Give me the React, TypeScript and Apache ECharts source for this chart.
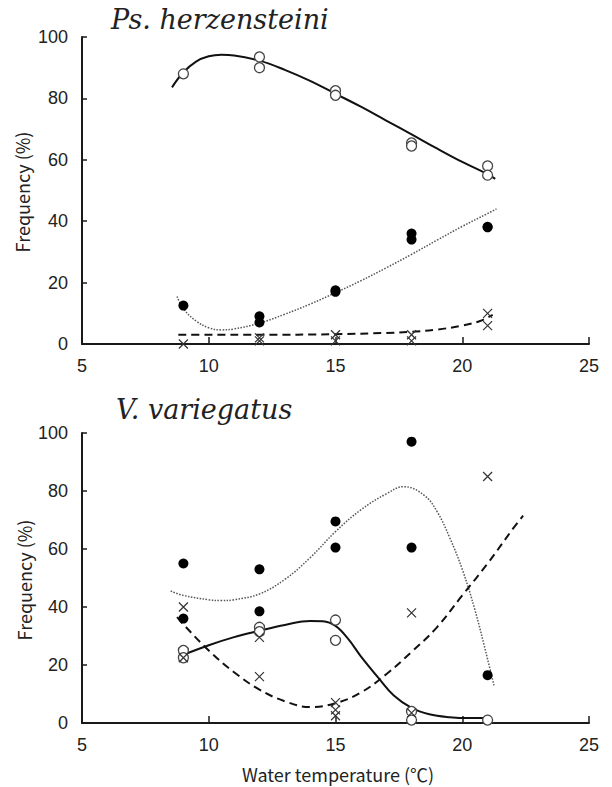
import React, { useEffect, useRef } from "react";
import * as echarts from "echarts";

// ---- Data ----
const xTickMin = 5;
const xTickMax = 25;
const yTickMin = 0;
const yTickMax = 100;

const titleTop = "Ps. herzensteini";
const titleBottom = "V. variegatus";
const yName = "Frequency (%)";
const xName = "Water temperature (℃)";

// Ps. herzensteini observations [temperature, frequency]
const topOpen = [[9, 88], [12, 93.5], [12, 90], [15, 82.5], [15, 81], [18, 65.5], [18, 64.5], [21, 58], [21, 55]];
const topFilled = [[9, 12.5], [12, 9], [12, 7], [15, 17.5], [15, 17], [18, 36], [18, 34], [21, 38.2], [21, 38]];
const topCross = [[9, 0], [12, 2], [12, 1], [15, 3], [15, 1], [18, 3], [18, 1], [21, 10], [21, 6]];

// Ps. herzensteini fitted curves
const topSolidFit = [[8.55, 83.6], [9, 88.5], [9.5, 92], [10, 93.7], [10.5, 94.2], [11, 94], [12, 92.3], [13, 89.3], [14, 85.7], [15, 81.5], [16, 77.3], [17, 72.8], [18, 68.3], [19, 63.7], [20, 59.3], [21, 55.3], [21.3, 53.8]];
const topDottedFit = [[8.75, 15.5], [9, 11.5], [9.5, 7.5], [10, 5.3], [10.5, 4.6], [11, 4.9], [12, 6.8], [13, 9.7], [14, 13], [15, 16.7], [16, 20.6], [17, 24.8], [18, 29.2], [19, 33.8], [20, 38.3], [21, 42.5], [21.35, 44]];
const topDashedFit = [[8.8, 3], [10, 3], [12, 3], [15, 3.2], [17, 3.6], [18, 4], [19, 4.7], [20, 6], [20.7, 7.5], [21.2, 9.5]];

// V. variegatus observations
const botFilled = [[9, 55], [9, 36], [12, 53], [12, 38.5], [15, 69.5], [15, 60.5], [18, 97], [18, 60.5], [21, 16.5]];
const botOpen = [[9, 25], [9, 22.5], [12, 33], [12, 31.5], [15, 35.5], [15, 28.5], [18, 4], [18, 1], [21, 1]];
const botCross = [[9, 40], [9, 22.5], [12, 29.5], [12, 16], [15, 7], [15, 4.5], [15, 2.5], [18, 38], [18, 3.5], [21, 85]];

// V. variegatus fitted curves
const botSolidFit = [[9, 23.5], [10, 26.8], [11, 29.6], [12, 31.8], [13, 33.8], [14, 35.2], [14.5, 35.1], [15, 33.5], [15.5, 29], [16, 23], [16.7, 15.5], [17.3, 9.5], [18, 5.2], [18.7, 3], [19.5, 2], [20.3, 1.7], [21, 1.7]];
const botDottedFit = [[8.5, 45.5], [9, 44], [10, 42.5], [10.5, 42.2], [11, 42.5], [12, 44.5], [13, 49.5], [14, 57], [15, 66], [16, 73.5], [17, 79], [17.7, 81.5], [18.5, 78.5], [19, 73], [19.5, 64], [20, 53], [20.5, 39], [21, 22], [21.25, 13]];
const botDashedFit = [[8.75, 36.5], [9, 34], [10, 25], [11, 17.5], [12, 11.5], [13, 7.5], [14, 5.5], [15, 6.8], [16, 10.5], [17, 16.8], [18, 24.5], [19, 33], [20, 44], [21, 55], [22, 67], [22.4, 71.5]];

const CROSS = "path://M0,0L10,10M10,0L0,10";
const INK = "#1a1a1a";

function axisPair(idx: number) {
  const x = {
    type: "value",
    gridIndex: idx,
    min: xTickMin,
    max: xTickMax,
    interval: 5,
    splitLine: { show: false },
    axisLine: { show: true, onZero: false, lineStyle: { color: INK, width: 2 } },
    axisTick: { show: true, inside: true, length: 7, lineStyle: { color: INK, width: 1.5 } },
    axisLabel: { color: "#222", fontFamily: "Liberation Sans", fontSize: 18, margin: 13 },
  };
  const y = {
    type: "value",
    gridIndex: idx,
    min: yTickMin,
    max: yTickMax,
    interval: 20,
    splitLine: { show: false },
    axisLine: { show: true, onZero: false, lineStyle: { color: INK, width: 2 } },
    axisTick: { show: true, inside: true, length: 5, lineStyle: { color: INK, width: 1.5 } },
    axisLabel: { color: "#222", fontFamily: "Liberation Sans", fontSize: 18, margin: 14 },
  };
  return { x, y };
}

function fitLine(data: number[][], idx: number, type: any, width: number, color: string) {
  return {
    type: "line",
    xAxisIndex: idx,
    yAxisIndex: idx,
    data,
    smooth: 0.4,
    symbol: "none",
    lineStyle: { type, width, color },
    z: 2,
  };
}

function scatter(data: number[][], idx: number, kind: "open" | "filled" | "cross") {
  const base: any = { type: "scatter", xAxisIndex: idx, yAxisIndex: idx, data, z: 3 };
  if (kind === "open") {
    base.symbol = "circle";
    base.symbolSize = 10;
    base.itemStyle = { color: "#fff", borderColor: "#444", borderWidth: 1.3, opacity: 1 };
  } else if (kind === "filled") {
    base.symbol = "circle";
    base.symbolSize = 10;
    base.itemStyle = { color: "#000", opacity: 1 };
  } else {
    base.symbol = CROSS;
    base.symbolSize = 9;
    base.itemStyle = { color: "none", borderColor: "#333", borderWidth: 1.2, opacity: 1 };
  }
  return base;
}

export default function App() {
  const ref = useRef<HTMLDivElement>(null);
  useEffect(() => {
    if (!ref.current) return;
    const chart = echarts.init(ref.current, undefined, { renderer: "svg" });
    const a0 = axisPair(0);
    const a1 = axisPair(1);
    const nameFont = '18px "Noto Sans CJK JP", "Noto Sans", sans-serif';
    const titleFont = 'italic 27px "DejaVu Serif", serif';
    chart.setOption({
      animation: false,
      backgroundColor: "#fff",
      grid: [
        { left: 82, top: 37, width: 507, height: 307 },
        { left: 82, top: 433, width: 507, height: 290 },
      ],
      xAxis: [a0.x, a1.x],
      yAxis: [a0.y, a1.y],
      graphic: [
        { type: "text", left: 111, top: 6, style: { text: titleTop, font: titleFont, fill: "#222" } },
        { type: "text", left: 116, top: 396, style: { text: titleBottom, font: titleFont, fill: "#222" } },
        { type: "text", x: 22, y: 192, rotation: Math.PI / 2, style: { text: yName, font: nameFont, fill: "#222", align: "center", verticalAlign: "middle" } },
        { type: "text", x: 24, y: 580, rotation: Math.PI / 2, style: { text: yName, font: nameFont, fill: "#222", align: "center", verticalAlign: "middle" } },
        { type: "text", x: 338, y: 774, style: { text: xName, font: nameFont, fill: "#222", align: "center", verticalAlign: "middle" } },
      ],
      series: [
        fitLine(topSolidFit, 0, "solid", 2, "#111"),
        fitLine(topDottedFit, 0, "dotted", 1.5, "#555"),
        fitLine(topDashedFit, 0, [8, 5], 2, "#111"),
        scatter(topOpen, 0, "open"),
        scatter(topFilled, 0, "filled"),
        scatter(topCross, 0, "cross"),
        fitLine(botSolidFit, 1, "solid", 2, "#111"),
        fitLine(botDottedFit, 1, "dotted", 1.5, "#555"),
        fitLine(botDashedFit, 1, [8, 5], 2, "#111"),
        scatter(botOpen, 1, "open"),
        scatter(botFilled, 1, "filled"),
        scatter(botCross, 1, "cross"),
      ],
    });
    return () => chart.dispose();
  }, []);
  return <div ref={ref} style={{ position: "absolute", left: 0, top: 0, width: 612, height: 787 }} />;
}
